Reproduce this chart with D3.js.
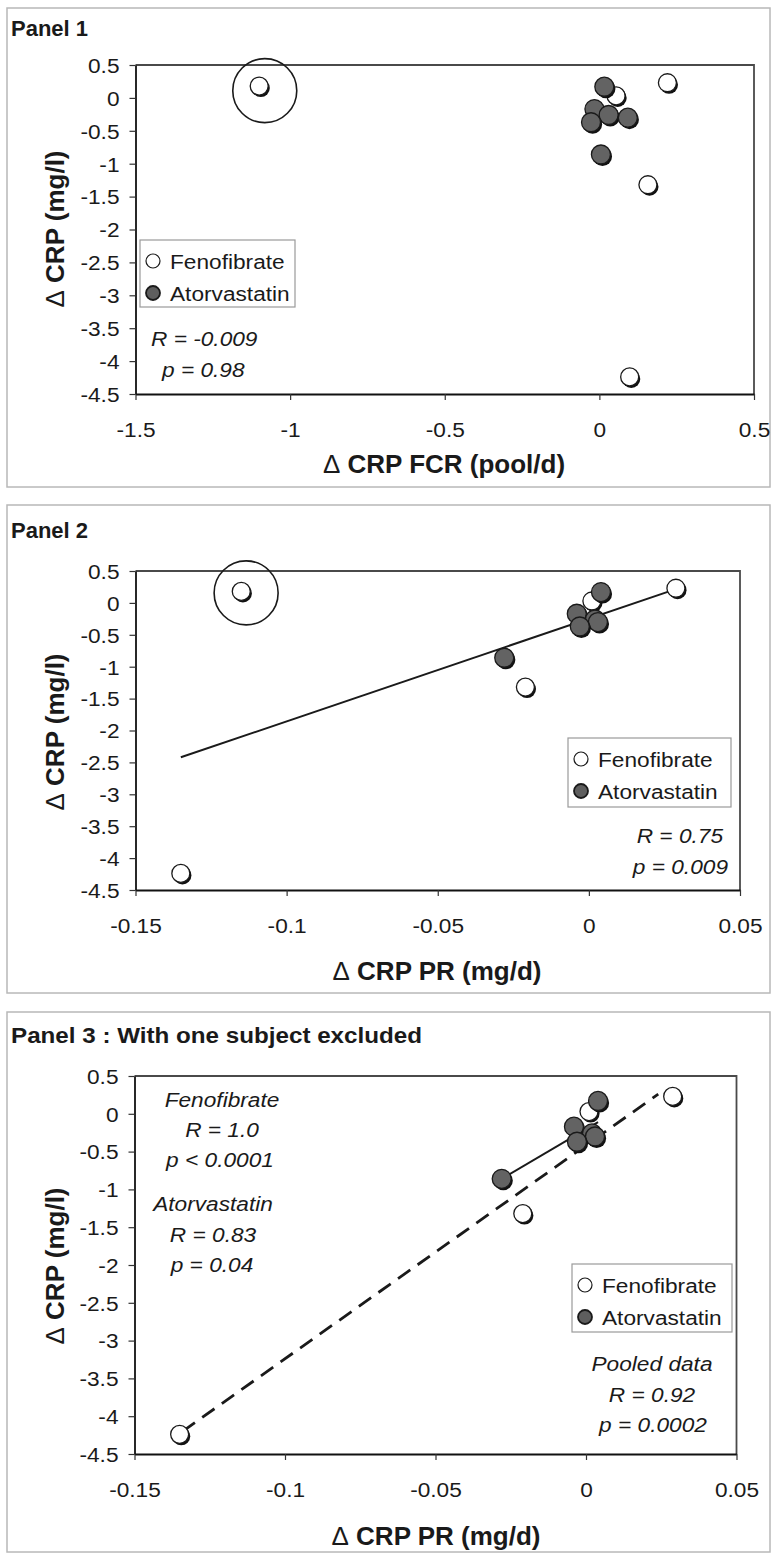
<!DOCTYPE html>
<html>
<head>
<meta charset="utf-8">
<script src="https://cdnjs.cloudflare.com/ajax/libs/d3/7.8.5/d3.min.js"></script>
<style>
body{margin:0;background:#fff;}
svg text{font-family:"Liberation Sans",Arial,Helvetica,sans-serif;fill:#1a1a1a;}
.tick text{font-size:21px;}
.ptitle{font-weight:bold;font-size:22px;}
.atitle{font-weight:bold;font-size:26px;}
.stat{font-style:italic;font-size:21px;}
.leg{font-size:21px;}
</style>
</head>
<body>
<svg id="chart" width="772" height="1556"></svg>
<script>
// delta CRP (mg/l) per subject, with FCR (pool/d) and PR (mg/d)
var feno_crp = [0.18, 0.23, 0.03, -1.32, -4.24];
var feno_fcr = [-1.10, 0.22, 0.054, 0.157, 0.098];
var feno_pr  = [-0.115, 0.0288, 0.001, -0.021, -0.135];
var ator_crp = [0.17, -0.17, -0.26, -0.30, -0.37, -0.86];
var ator_fcr = [0.016, -0.016, 0.03, 0.092, -0.027, 0.005];
var ator_pr  = [0.004, -0.004, 0.002, 0.003, -0.003, -0.028];
var excluded = 0; // circled fenofibrate subject, left out of panel 3

var yTicks   = [0.5, 0, -0.5, -1, -1.5, -2, -2.5, -3, -3.5, -4, -4.5];
var fcrTicks = [-1.5, -1, -0.5, 0, 0.5];
var prTicks  = [-0.15, -0.1, -0.05, 0, 0.05];
var series   = ['Fenofibrate', 'Atorvastatin'];

// fitted lines (end points)
var fitAll_x  = [-0.135, 0.029],  fitAll_y  = [-2.42, 0.22];
var fitAtor_x = [-0.028, 0.004],  fitAtor_y = [-0.86, -0.11];
var fitPool_x = [-0.134, 0.024],  fitPool_y = [-4.2, 0.26];
var ring1 = [-1.082, 0.11], ring2 = [-0.1134, 0.157];

var SX = 1.08;
var svg = d3.select('#chart');

function label(g, x, y, s, cls, anchor) {
  return g.append('text').attr('class', cls).attr('text-anchor', anchor || 'start')
    .attr('transform', 'translate(' + x + ',' + y + ') scale(' + SX + ',1)').text(s);
}

function marker(g, cx, cy, r, dark) {
  g.append('circle').attr('cx', cx + 1.6).attr('cy', cy + 2).attr('r', r).attr('fill', '#111');
  g.append('circle').attr('cx', cx).attr('cy', cy).attr('r', r)
    .attr('fill', dark ? '#636363' : '#fff').attr('stroke', '#1a1a1a').attr('stroke-width', 1.3);
}

function panel(p) {
  var g = svg.append('g');
  g.append('rect').attr('x', p.box[0]).attr('y', p.box[1]).attr('width', p.box[2] - p.box[0]).attr('height', p.box[3] - p.box[1])
    .attr('fill', 'none').attr('stroke', '#b8b8b8').attr('stroke-width', 1.5);
  var t = g.append('text').attr('class', 'ptitle').attr('x', p.box[0] + 4).attr('y', p.titleY).text(p.title);
  if (p.titleLen) t.attr('textLength', p.titleLen).attr('lengthAdjust', 'spacingAndGlyphs');

  var x = d3.scaleLinear().domain(d3.extent(p.xTicks)).range([p.left, p.right]);
  var y = d3.scaleLinear().domain(d3.extent(yTicks)).range([p.bottom, p.top]);

  g.append('path').attr('d', 'M' + p.left + ',' + p.top + 'H' + p.right + 'V' + p.bottom)
    .attr('fill', 'none').attr('stroke', '#4a4a4a').attr('stroke-width', 1.8);

  var ax = g.append('g').attr('transform', 'translate(0,' + p.bottom + ')')
    .call(d3.axisBottom(x).tickValues(p.xTicks).tickSize(6).tickSizeOuter(0).tickFormat(String));
  var ay = g.append('g').attr('transform', 'translate(' + p.left + ',0)')
    .call(d3.axisLeft(y).tickValues(yTicks).tickSize(6).tickSizeOuter(0).tickFormat(String));
  [ax, ay].forEach(function(a) {
    a.attr('font-size', null).attr('font-family', null);
    a.select('.domain').attr('stroke', '#111').attr('stroke-width', 1.8);
    a.selectAll('.tick line').attr('stroke', '#333').attr('stroke-width', 1.2);
    a.selectAll('.tick text').attr('fill', null).attr('transform', 'scale(' + SX + ',1)');
  });
  ax.selectAll('.tick text').attr('y', 43).attr('dy', null);
  ay.selectAll('.tick text').attr('x', -16 / SX).attr('dy', '0.35em');

  var xt = g.append('text').attr('class', 'atitle').attr('text-anchor', 'middle')
    .attr('x', p.xTitleX).attr('y', p.xTitleY);
  xt.append('tspan').attr('font-weight', 'normal').text('\u0394');
  xt.append('tspan').text(' ' + p.xTitle);
  var yt = g.append('text').attr('class', 'atitle').attr('text-anchor', 'middle')
    .attr('transform', 'translate(64,' + p.yTitleY + ') rotate(-90)');
  yt.append('tspan').attr('font-weight', 'normal').text('\u0394');
  yt.append('tspan').text(' CRP (mg/l)');

  // fit lines
  p.lines.forEach(function(l) {
    g.append('line').attr('x1', x(l.x[0])).attr('y1', y(l.y[0])).attr('x2', x(l.x[1])).attr('y2', y(l.y[1]))
      .attr('stroke', '#1a1a1a').attr('stroke-width', l.dash ? 2.8 : 2)
      .attr('stroke-dasharray', l.dash ? '15,9' : null);
  });

  if (p.ring) g.append('circle').attr('cx', x(p.ring[0])).attr('cy', y(p.ring[1])).attr('r', 32)
    .attr('fill', 'none').attr('stroke', '#1a1a1a').attr('stroke-width', 1.6);

  var pts = g.append('g');
  p.fx.forEach(function(v, i) {
    if (p.skip === i) return;
    marker(pts, x(v), y(feno_crp[i]), 9, false);
  });
  p.ax.forEach(function(v, i) {
    marker(pts, x(v), y(ator_crp[i]), 9.5, true);
  });

  // legend
  var lg = p.legend;
  g.append('rect').attr('x', lg[0]).attr('y', lg[1]).attr('width', lg[2] - lg[0]).attr('height', lg[3] - lg[1])
    .attr('fill', '#fff').attr('stroke', '#9a9a9a').attr('stroke-width', 1.2);
  series.forEach(function(s, i) {
    var cy = lg[1] + 21 + i * 32;
    g.append('circle').attr('cx', lg[0] + 13).attr('cy', cy).attr('r', 7)
      .attr('fill', i ? '#5e5e5e' : '#fff').attr('stroke', '#1a1a1a').attr('stroke-width', i ? 1.8 : 1.2);
    label(g, lg[0] + 30, cy + 7.5, s, 'leg');
  });

  p.stats.forEach(function(s) { label(g, s[0], s[1], s[2], 'stat', s[3]); });
}

panel({
  title: 'Panel 1', box: [7, 8, 770, 487], titleY: 36,
  left: 135.5, right: 754, top: 65, bottom: 394,
  xTicks: fcrTicks, xTitle: 'CRP FCR (pool/d)', xTitleX: 444, xTitleY: 473, yTitleY: 229,
  fx: feno_fcr, ax: ator_fcr, lines: [], ring: ring1,
  legend: [140, 240, 295, 307],
  stats: [[151, 346, 'R = -0.009'], [162, 377, 'p = 0.98']]
});

panel({
  title: 'Panel 2', box: [7, 505, 770, 993], titleY: 538,
  left: 135.5, right: 740, top: 571, bottom: 890,
  xTicks: prTicks, xTitle: 'CRP PR (mg/d)', xTitleX: 437, xTitleY: 980, yTitleY: 732,
  fx: feno_pr, ax: ator_pr, lines: [{x: fitAll_x, y: fitAll_y}], ring: ring2,
  legend: [568, 738, 731, 807],
  stats: [[723, 843, 'R = 0.75', 'end'], [728, 874, 'p = 0.009', 'end']]
});

panel({
  title: 'Panel 3 : With one subject excluded', titleLen: 411, box: [7, 1012, 770, 1552], titleY: 1043,
  left: 134.5, right: 736.5, top: 1076, bottom: 1454,
  xTicks: prTicks, xTitle: 'CRP PR (mg/d)', xTitleX: 436, xTitleY: 1545, yTitleY: 1266,
  fx: feno_pr, ax: ator_pr, skip: excluded,
  lines: [{x: fitPool_x, y: fitPool_y, dash: true}, {x: fitAtor_x, y: fitAtor_y}],
  legend: [572, 1264, 732, 1332],
  stats: [[222, 1107, 'Fenofibrate', 'middle'], [222, 1137, 'R = 1.0', 'middle'], [220, 1167, 'p < 0.0001', 'middle'],
          [213, 1211, 'Atorvastatin', 'middle'], [213, 1242, 'R = 0.83', 'middle'], [212, 1272, 'p = 0.04', 'middle'],
          [652, 1371, 'Pooled data', 'middle'], [652, 1402, 'R = 0.92', 'middle'], [653, 1432, 'p = 0.0002', 'middle']]
});
</script>
</body>
</html>
